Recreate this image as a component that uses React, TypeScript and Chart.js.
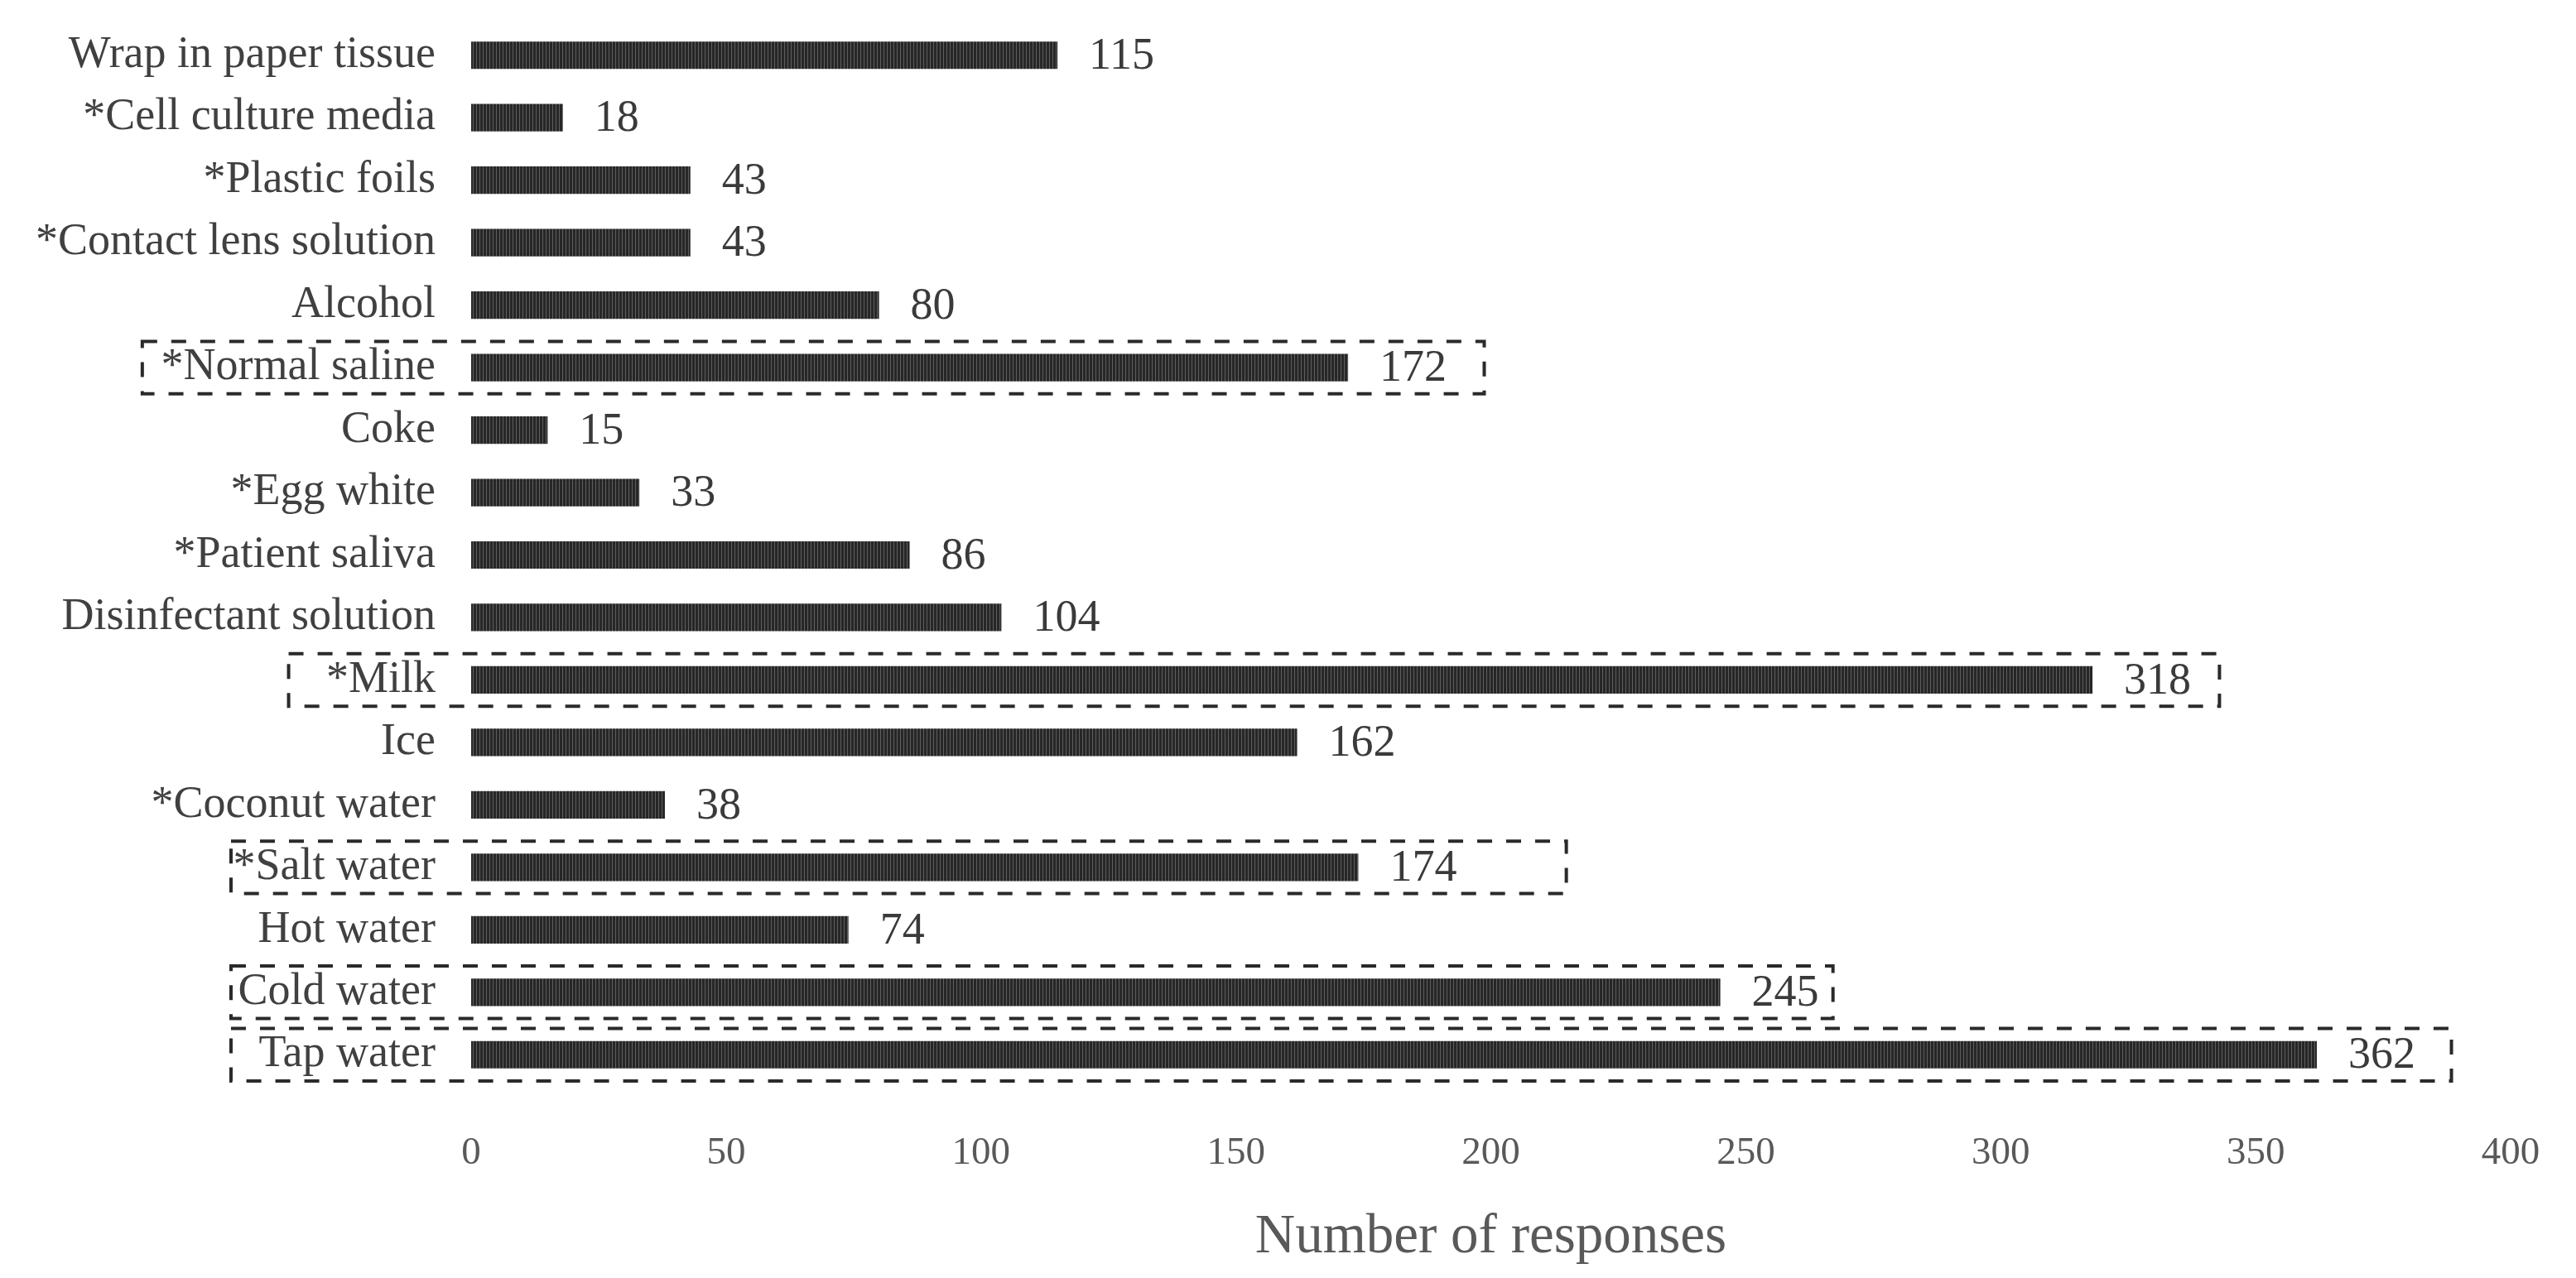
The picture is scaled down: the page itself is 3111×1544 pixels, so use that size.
import React, { useEffect, useRef } from "react";
import { Chart, registerables } from "chart.js";

Chart.register(...registerables);

const categories = [
  "Wrap in paper tissue",
  "*Cell culture media",
  "*Plastic foils",
  "*Contact lens solution",
  "Alcohol",
  "*Normal saline",
  "Coke",
  "*Egg white",
  "*Patient saliva",
  "Disinfectant solution",
  "*Milk",
  "Ice",
  "*Coconut water",
  "*Salt water",
  "Hot water",
  "Cold water",
  "Tap water",
];
const responses = [115, 18, 43, 43, 80, 172, 15, 33, 86, 104, 318, 162, 38, 174, 74, 245, 362];

const xTickValues = [0, 50, 100, 150, 200, 250, 300, 350, 400];
const axisTitle = "Number of responses";

// Dashed highlight boxes (extent in data units along x)
const boxedCategories = ["*Normal saline", "*Milk", "*Salt water", "Cold water", "Tap water"];
const boxFrom = [-64.5, -35.8, -47.1, -47.1, -47.1];
const boxTo = [198.7, 342.9, 214.8, 267.1, 388.4];

const FONT = "'Liberation Serif', 'Times New Roman', serif";

function makePattern(): CanvasPattern | string {
  const c = document.createElement("canvas");
  c.width = 4;
  c.height = 4;
  const g = c.getContext("2d");
  if (!g) return "#333";
  g.fillStyle = "#272727";
  g.fillRect(0, 0, 4, 4);
  g.fillStyle = "#5e5e5e";
  g.fillRect(3, 0, 1, 4);
  const p = g.createPattern(c, "repeat");
  return p || "#333";
}

const valueLabelPlugin = {
  id: "valueLabels",
  afterDatasetsDraw(chart: any) {
    const { ctx } = chart;
    const meta = chart.getDatasetMeta(0);
    const xs = chart.scales.x;
    ctx.save();
    ctx.font = `54px ${FONT}`;
    ctx.fillStyle = "#3a3a3a";
    ctx.textAlign = "left";
    ctx.textBaseline = "middle";
    meta.data.forEach((bar: any, i: number) => {
      const v = responses[i];
      const x = xs.getPixelForValue(v) + 38;
      ctx.fillText(String(v), x, bar.y + 2);
    });
    ctx.restore();
  },
};

const boxPlugin = {
  id: "dashedBoxes",
  afterDraw(chart: any) {
    const { ctx } = chart;
    const xs = chart.scales.x;
    const ys = chart.scales.y;
    const step = ys.getPixelForValue(1) - ys.getPixelForValue(0);
    ctx.save();
    ctx.strokeStyle = "#2a2a2a";
    ctx.lineWidth = 4;
    ctx.setLineDash([18, 17]);
    boxedCategories.forEach((cat, k) => {
      const idx = categories.indexOf(cat);
      const cy = ys.getPixelForValue(idx);
      const x1 = xs.getPixelForValue(boxFrom[k]);
      const x2 = xs.getPixelForValue(boxTo[k]);
      const h = step * 0.42;
      ctx.strokeRect(x1, cy - h, x2 - x1, 2 * h);
    });
    ctx.restore();
  },
};

export default function App() {
  const ref = useRef<HTMLCanvasElement | null>(null);
  useEffect(() => {
    if (!ref.current) return;
    const chart = new Chart(ref.current, {
      type: "bar",
      data: {
        labels: categories,
        datasets: [
          {
            data: responses,
            backgroundColor: makePattern() as any,
            borderWidth: 0,
            barPercentage: 0.44,
            categoryPercentage: 1,
          },
        ],
      },
      options: {
        indexAxis: "y",
        animation: false,
        responsive: false,
        maintainAspectRatio: false,
        layout: { padding: { left: 0, top: 21, right: 71, bottom: 0 } },
        plugins: {
          legend: { display: false },
          tooltip: { enabled: false },
        },
        scales: {
          x: {
            min: 0,
            max: 400,
            afterBuildTicks: (scale: any) => {
              scale.ticks = xTickValues.map((v) => ({ value: v }));
            },
            afterFit: (scale: any) => {
              scale.height = 224;
              scale.paddingLeft = 0;
              scale.paddingRight = 0;
            },
            grid: { display: false, drawTicks: false },
            border: { display: false },
            ticks: {
              padding: 53,
              color: "#595959",
              font: { family: FONT, size: 47 },
              maxRotation: 0,
              autoSkip: false,
            },
            title: {
              display: true,
              text: axisTitle,
              color: "#595959",
              font: { family: FONT, size: 67 },
              padding: { top: 0, bottom: 0 },
            },
          },
          y: {
            afterFit: (scale: any) => {
              scale.width = 561;
              scale.paddingTop = 0;
              scale.paddingBottom = 0;
            },
            grid: { display: false, drawTicks: false },
            border: { display: false },
            ticks: {
              padding: 43,
              color: "#404040",
              font: { family: FONT, size: 54 },
              autoSkip: false,
            },
          },
        },
      },
      plugins: [valueLabelPlugin, boxPlugin],
    });
    return () => chart.destroy();
  }, []);
  return (
    <div style={{ width: 3095, height: 1528 }}>
      <canvas ref={ref} width={3095} height={1528} style={{ width: 3095, height: 1528, display: "block" }} />
    </div>
  );
}
